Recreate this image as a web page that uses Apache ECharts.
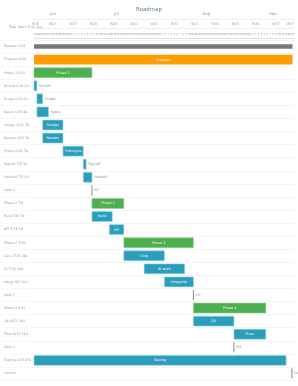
<!DOCTYPE html>
<html><head><meta charset="utf-8">
<script src="https://cdn.jsdelivr.net/npm/echarts@6/dist/echarts.min.js"></script>
<style>html,body{margin:0;padding:0;background:#fff}#c{width:298px;height:386px}</style>
</head><body><div id="c"></div>
<script>
var titleText = "Roadmap";
var headerText = "Task  Start  End  Dur";
var startDate = new Date(2024, 5, 18);
var numDays = 90;
var taskNames = ["Release 6/18","Program 6/18","Phase 1 6/18","Kickoff 6/18 1d","Scope 6/19 2d","Specs 6/19 4d","Design 6/21 7d","Review 6/21 7d","Protos 6/28 7d","Signoff 7/5 1d","Handoff 7/5 3d","Gate 1","Phase 2 7/8","Build 7/8 7d","API 7/14 5d","Phase 3 7/19","Core 7/19 14d","UI 7/26 14d","Integr 8/2 10d","Gate 2","Phase 4 8/12","QA 8/12 14d","Fixes 8/26 11d","Gate 3","Testing 6/18 87d","Launch"];
var starts = [0,0,0,0,1,1,3,3,10,17,17,20,20,20,26,31,31,38,45,55,55,55,69,69,0,89];
var ends   = [89.2,89.2,20,1,3,5,10,10,17,18,20,20,31,27,31,55,45,52,55,55,80,69,80,69,87,89];
var kinds  = ["summary","project","group","task","task","task","task","task","task","task","task","milestone","group","task","task","group","task","task","task","milestone","group","task","task","milestone","task","milestone"];
var barLabels = ["","Program","Phase 1","Kickoff","Scope","Specs","Design","Review","Prototype","Signoff","Handoff","M1","Phase 2","Build","API","Phase 3","Core","UI work","Integrate","M2","Phase 4","QA","Fixes","M3","Testing","Go"];

var monthNames = ["Jan","Feb","Mar","Apr","May","Jun","Jul","Aug","Sep","Oct","Nov","Dec"];
var days = [];
for (var i = 0; i < numDays; i++) {
  days.push(new Date(startDate.getFullYear(), startDate.getMonth(), startDate.getDate() + i));
}
var dayCats = days.map(function(d, i){ return String(i); });
function isoWeek(d){
  var t = new Date(Date.UTC(d.getFullYear(), d.getMonth(), d.getDate()));
  var dn = t.getUTCDay() || 7; t.setUTCDate(t.getUTCDate() + 4 - dn);
  var y0 = new Date(Date.UTC(t.getUTCFullYear(),0,1));
  return Math.ceil(((t - y0) / 86400000 + 1) / 7);
}
var monthLabelIdx = {};
(function(){
  var segStart = 0;
  for (var i = 1; i <= numDays; i++) {
    if (i === numDays || days[i].getMonth() !== days[i-1].getMonth()) {
      monthLabelIdx[Math.floor((segStart + i - 1) / 2)] = monthNames[days[segStart].getMonth()];
      segStart = i;
    }
  }
})();

var colors = {summary:"#777777", project:"#ff9c00", group:"#4caf50", task:"#2a9fbc", milestone:"#888888"};
var data = taskNames.map(function(n, i){ return [i, starts[i], ends[i], i]; });

function renderItem(params, api){
  var row = api.value(0), s = api.value(1), e = api.value(2), k = kinds[api.value(3)], lab = barLabels[api.value(3)];
  var p0 = api.coord([s, row]), p1 = api.coord([e, row]);
  var bh = api.size([0, 1])[1];
  var children = [];
  if (k === "milestone") {
    var h = bh * 0.78;
    children.push({type:"line", shape:{x1:p0[0], y1:p0[1]-h/2, x2:p0[0], y2:p0[1]+h/2}, style:{stroke:"#888", lineWidth:1}});
    children.push({type:"text", style:{text:lab, x:p0[0]+2, y:p0[1], verticalAlign:"middle", align:"left", fontSize:3.5, fill:"#999", fontFamily:"DejaVu Sans"}});
    return {type:"group", children:children};
  }
  var h = k === "summary" ? bh * 0.34 : bh * 0.76;
  var w = Math.max(p1[0] - p0[0], 1);
  children.push({type:"rect", shape:{x:p0[0], y:p0[1]-h/2, width:w, height:h},
    style:{fill:colors[k], stroke: k === "task" ? "#9fd3e0" : (k === "group" ? "#9ccf9e" : null), lineWidth:0.6}});
  if (lab) {
    var inside = w > 12;
    children.push({type:"text", style:{text:lab, x: inside ? p0[0] + w/2 : p1[0] + 2, y:p0[1], verticalAlign:"middle",
      align: inside ? "center" : "left", fontSize:3.5, fill: inside ? "#f2f2f2" : "#999", fontFamily:"DejaVu Sans"}});
  }
  return {type:"group", children:children};
}

var chart = echarts.init(document.getElementById("c"));
chart.setOption({
  animation:false,
  title:[
    {text:titleText, left:"center", top:2, textStyle:{fontSize:5.5, color:"#5f8a66", fontWeight:"normal", fontFamily:"DejaVu Sans"}},
    {text:headerText, left:4, top:21, textStyle:{fontSize:3.3, color:"#999", fontWeight:"normal", fontFamily:"DejaVu Sans"}}
  ],
  grid:{left:34, right:3, top:40, bottom:6, containLabel:false},
  xAxis:[
    {type:"value", min:0, max:numDays, show:false},
    {type:"category", position:"top", data:dayCats, offset:2, boundaryGap:true,
      axisLine:{show:true, lineStyle:{color:"#ccc", type:"dotted", width:0.6}}, axisTick:{show:false},
      axisLabel:{interval:0, margin:2, fontSize:2.6, color:"#999", fontFamily:"DejaVu Sans",
        formatter:function(v){ return String(days[+v].getDate()); }}},
    {type:"category", position:"top", data:dayCats, offset:12, boundaryGap:true,
      axisLine:{show:true, lineStyle:{color:"#e2e2e2", width:0.6}}, axisTick:{show:false},
      axisLabel:{margin:2, fontSize:3.3, color:"#999", fontFamily:"DejaVu Sans",
        interval:function(i){ return i === 0 || days[i].getDay() === 1 || i === numDays - 2; },
        formatter:function(v){ return "W" + isoWeek(days[+v]); }}},
    {type:"category", position:"top", data:dayCats, offset:21, boundaryGap:true,
      axisLine:{show:true, lineStyle:{color:"#e2e2e2", width:0.6}}, axisTick:{show:false},
      axisLabel:{margin:3, fontSize:4, color:"#999", fontFamily:"DejaVu Sans",
        interval:function(i){ return monthLabelIdx.hasOwnProperty(i); },
        formatter:function(v){ return monthLabelIdx[+v] || ""; }}}
  ],
  yAxis:{type:"category", inverse:true, data:taskNames, boundaryGap:true,
    axisLine:{show:false},
    axisTick:{show:true, length:34, lineStyle:{color:"#e4e4e4", type:"dotted", width:0.6}},
    splitLine:{show:true, lineStyle:{color:"#ececec", width:0.6}},
    axisLabel:{align:"left", margin:30, fontSize:3.3, color:"#999", fontFamily:"DejaVu Sans"}},
  series:[{type:"custom", renderItem:renderItem, xAxisIndex:0, yAxisIndex:0, encode:{x:[1,2], y:0}, data:data}]
});
</script></body></html>
